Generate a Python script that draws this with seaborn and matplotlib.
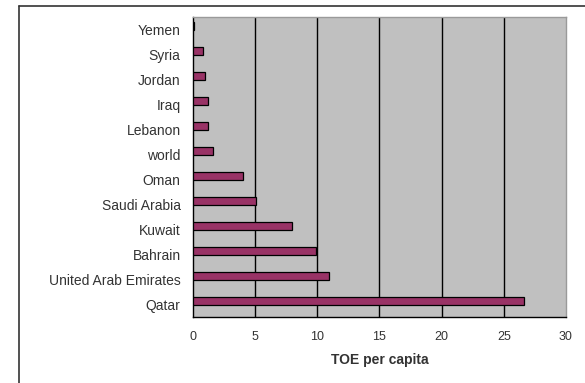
import matplotlib
matplotlib.use("Agg")
import matplotlib.pyplot as plt
import matplotlib.transforms as mtransforms
from matplotlib.lines import Line2D
from matplotlib.ticker import FixedLocator
import seaborn as sns
import pandas as pd

countries = ["Yemen", "Syria", "Jordan", "Iraq", "Lebanon", "world", "Oman",
             "Saudi Arabia", "Kuwait", "Bahrain", "United Arab Emirates", "Qatar"]
toe_per_capita = [0.1, 0.8, 1.0, 1.2, 1.2, 1.6, 4.0, 5.1, 8.0, 9.9, 10.9, 26.6]
x_ticks = [0, 5, 10, 15, 20, 25, 30]

df = pd.DataFrame({"country": countries, "toe": toe_per_capita})

sns.set_style("white")
plt.rcParams["font.family"] = ["Liberation Sans", "DejaVu Sans"]

fig = plt.figure(figsize=(5.85, 3.83), dpi=100)
ax = fig.add_axes([193 / 585, 1 - 317 / 383, (566 - 193) / 585, (317 - 17) / 383])
ax.set_facecolor("#c0c0c0")

sns.barplot(data=df, y="country", x="toe", orient="h", ax=ax,
            color="#993366", saturation=1, width=0.35,
            edgecolor="black", linewidth=0.9, zorder=3)

# bars sit slightly above the category centre
lift = mtransforms.ScaledTranslation(0, 3.5 / 100, fig.dpi_scale_trans)
for bar in ax.patches:
    bar.set_transform(ax.transData + lift)

ax.set_xlim(0, 30)
ax.set_ylim(len(countries) - 0.5, -0.5)
ax.set_xticks(x_ticks)
ax.set_xticklabels([str(t) for t in x_ticks], fontsize=9, color="#333333")
for t in x_ticks[1:-1]:
    ax.axvline(t, color="black", linewidth=1.0, zorder=1)

ax.tick_params(axis="y", which="major", length=0, pad=9, labelsize=10, labelcolor="#333333")
ax.yaxis.set_minor_locator(FixedLocator([i - 0.5 for i in range(len(countries) + 1)]))
ax.tick_params(axis="y", which="minor", length=5, width=1, color="black", direction="out")
ax.tick_params(axis="x", which="major", length=4, width=1, color="black",
               direction="out", pad=6)

ax.set_ylabel("")
ax.set_xlabel("TOE per capita", fontsize=10, fontweight="bold", color="#333333", labelpad=7)

for side in ("left", "bottom"):
    ax.spines[side].set_color("black")
    ax.spines[side].set_linewidth(1.0)
for side in ("top", "right"):
    ax.spines[side].set_color("#9a9a9a")
    ax.spines[side].set_linewidth(1.0)

# chart frame
fig.add_artist(Line2D([19 / 585, 1.0], [1 - 6 / 383, 1 - 6 / 383],
                      transform=fig.transFigure, color="#333333", linewidth=1.2))
fig.add_artist(Line2D([19 / 585, 19 / 585], [0.0, 1 - 6 / 383],
                      transform=fig.transFigure, color="#333333", linewidth=1.2))

fig.savefig("out.png", dpi=100)
